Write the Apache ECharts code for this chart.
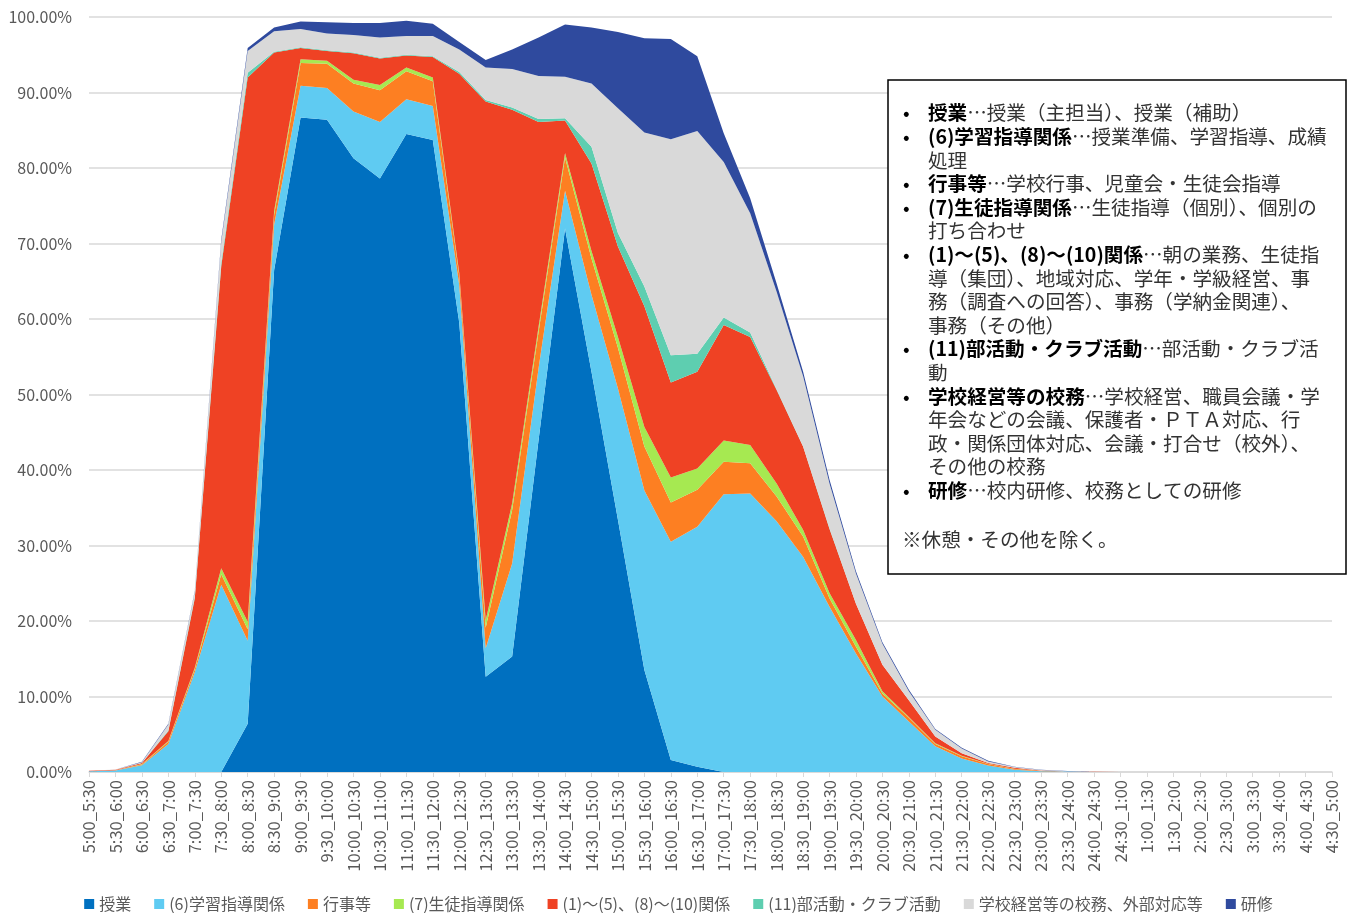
<!DOCTYPE html>
<html>
<head>
<meta charset="utf-8">
<title>時間帯別業務</title>
<script src="https://cdn.jsdelivr.net/npm/echarts@6/dist/echarts.min.js"></script>
<style>
    html, body { margin: 0; padding: 0; background: #fff; }
    #main { width: 1357px; height: 913px; }
</style>
</head>
<body>
<div id="main"></div>
<script>
// 時間帯
var categories = [
    '5:00_5:30', '5:30_6:00', '6:00_6:30', '6:30_7:00', '7:00_7:30', '7:30_8:00',
    '8:00_8:30', '8:30_9:00', '9:00_9:30', '9:30_10:00', '10:00_10:30', '10:30_11:00',
    '11:00_11:30', '11:30_12:00', '12:00_12:30', '12:30_13:00', '13:00_13:30', '13:30_14:00',
    '14:00_14:30', '14:30_15:00', '15:00_15:30', '15:30_16:00', '16:00_16:30', '16:30_17:00',
    '17:00_17:30', '17:30_18:00', '18:00_18:30', '18:30_19:00', '19:00_19:30', '19:30_20:00',
    '20:00_20:30', '20:30_21:00', '21:00_21:30', '21:30_22:00', '22:00_22:30', '22:30_23:00',
    '23:00_23:30', '23:30_24:00', '24:00_24:30', '24:30_1:00', '1:00_1:30', '1:30_2:00',
    '2:00_2:30', '2:30_3:00', '3:00_3:30', '3:30_4:00', '4:00_4:30', '4:30_5:00'
];

// 各業務の割合（%）
var jugyo = [0, 0, 0, 0, 0, 0, 6.4, 66.5, 86.7, 86.4, 81.3, 78.6, 84.5, 83.7, 59.5, 12.6, 15.3, 44.0, 72.0, 53.0,
    33.4, 13.5, 1.6, 0.7, 0, 0, 0, 0, 0, 0, 0, 0, 0, 0, 0, 0, 0, 0, 0, 0, 0, 0, 0, 0, 0, 0, 0, 0];
var gakushu = [0.1, 0.2, 0.9, 3.7, 13.2, 24.8, 11.0, 6.0, 4.2, 4.2, 6.2, 7.5, 4.6, 4.5, 5.0, 3.8, 12.3, 9.5, 5.0, 10.2,
    17.4, 23.8, 28.9, 31.8, 36.8, 36.9, 33.2, 28.5, 21.9, 15.7, 10.0, 6.7, 3.4, 1.8, 0.85, 0.3, 0.1, 0.05, 0.01, 0,
    0, 0, 0, 0, 0, 0, 0, 0];
var gyoji = [0, 0.02, 0.1, 0.3, 0.4, 1.4, 1.5, 1.3, 3.0, 3.2, 3.7, 4.2, 3.7, 3.3, 1.3, 2.7, 7.1, 4.8, 4.4, 4.8,
    5.4, 5.8, 5.2, 4.9, 4.3, 4.0, 3.3, 2.7, 1.1, 0.9, 0.4, 0.5, 0.3, 0.3, 0.2, 0.1, 0.05, 0.01, 0, 0,
    0, 0, 0, 0, 0, 0, 0, 0];
var seito = [0, 0.01, 0.05, 0.1, 0.2, 0.8, 1.0, 0.5, 0.5, 0.4, 0.5, 0.7, 0.5, 0.5, 0.3, 1.0, 0.9, 0.7, 0.6, 1.0,
    1.4, 2.6, 3.3, 2.8, 2.8, 2.4, 1.7, 0.9, 0.7, 0.9, 0.3, 0.1, 0.1, 0.05, 0.05, 0.02, 0, 0, 0, 0,
    0, 0, 0, 0, 0, 0, 0, 0];
var kankei = [0.05, 0.07, 0.15, 1.3, 9.2, 40.0, 72.1, 21.0, 1.5, 1.3, 3.5, 3.5, 1.6, 2.7, 26.4, 68.7, 52.1, 27.1, 4.3, 11.6,
    12.0, 16.0, 12.6, 12.8, 15.3, 14.3, 12.4, 11.0, 8.5, 4.8, 3.5, 2.2, 0.9, 0.35, 0.1, 0.13, 0.05, 0.02, 0.01, 0,
    0, 0, 0, 0, 0, 0, 0, 0];
var bukatsu = [0, 0, 0, 0.1, 0.2, 0.5, 0.6, 0.1, 0.1, 0.1, 0.1, 0.1, 0.1, 0.1, 0.2, 0.2, 0.3, 0.4, 0.3, 2.2,
    1.8, 2.6, 3.6, 2.4, 1.0, 0.6, 0.1, 0.05, 0.1, 0, 0, 0, 0, 0, 0, 0, 0, 0, 0, 0,
    0, 0, 0, 0, 0, 0, 0, 0];
var komu = [0, 0.02, 0.1, 0.8, 0.7, 2.7, 2.9, 2.7, 2.4, 2.2, 2.3, 2.7, 2.5, 2.7, 3.0, 4.3, 5.1, 5.7, 5.5, 8.4,
    16.5, 20.4, 28.6, 29.5, 20.6, 15.8, 12.9, 9.3, 5.9, 4.0, 2.8, 1.2, 0.9, 0.6, 0.2, 0.1, 0.05, 0.02, 0.01, 0,
    0, 0, 0, 0, 0, 0, 0, 0];
var kenshu = [0, 0.01, 0.05, 0.1, 0.1, 0.3, 0.4, 0.5, 1.0, 1.5, 1.6, 1.9, 2.0, 1.6, 1.0, 1.0, 2.6, 5.1, 6.9, 7.4,
    10.1, 12.5, 13.3, 9.9, 3.8, 2.0, 1.1, 0.6, 0.5, 0.3, 0.2, 0.2, 0.1, 0.1, 0.1, 0.05, 0.05, 0.02, 0, 0,
    0, 0, 0, 0, 0, 0, 0, 0];

var seriesNames = ['授業', '(6)学習指導関係', '行事等', '(7)生徒指導関係', '(1)〜(5)、(8)〜(10)関係',
    '(11)部活動・クラブ活動', '学校経営等の校務、外部対応等', '研修'];
var seriesData = [jugyo, gakushu, gyoji, seito, kankei, bukatsu, komu, kenshu];
var colors = ['#0070C0', '#5FCBF2', '#FD7F22', '#A6E951', '#EF4224', '#5ECEB0', '#D9D9D9', '#2F4A9E'];

// 説明ボックスの行
var noteLines = [
    { bullet: true, text: '{b|授業}…授業（主担当）、授業（補助）' },
    { bullet: true, text: '{b|(6)学習指導関係}…授業準備、学習指導、成績' },
    { bullet: false, text: '処理' },
    { bullet: true, text: '{b|行事等}…学校行事、児童会・生徒会指導' },
    { bullet: true, text: '{b|(7)生徒指導関係}…生徒指導（個別）、個別の' },
    { bullet: false, text: '打ち合わせ' },
    { bullet: true, text: '{b|(1)～(5)、(8)～(10)関係}…朝の業務、生徒指' },
    { bullet: false, text: '導（集団）、地域対応、学年・学級経営、事' },
    { bullet: false, text: '務（調査への回答）、事務（学納金関連）、' },
    { bullet: false, text: '事務（その他）' },
    { bullet: true, text: '{b|(11)部活動・クラブ活動}…部活動・クラブ活' },
    { bullet: false, text: '動' },
    { bullet: true, text: '{b|学校経営等の校務}…学校経営、職員会議・学' },
    { bullet: false, text: '年会などの会議、保護者・ＰＴＡ対応、行' },
    { bullet: false, text: '政・関係団体対応、会議・打合せ（校外）、' },
    { bullet: false, text: 'その他の校務' },
    { bullet: true, text: '{b|研修}…校内研修、校務としての研修' }
];

var FONT = '"Noto Sans CJK JP", "Noto Sans", sans-serif';
var NOTE_SIZE = 19.6;

var series = [];
for (var i = 0; i < seriesNames.length; i++) {
    series.push({
        name: seriesNames[i],
        type: 'line',
        stack: 'total',
        data: seriesData[i],
        symbol: 'none',
        silent: true,
        lineStyle: { width: 0 },
        areaStyle: { color: colors[i], opacity: 1 },
        itemStyle: { color: colors[i] }
    });
}

var graphic = [{
    type: 'rect',
    z: 100,
    shape: { x: 888, y: 80, width: 458, height: 494 },
    style: { fill: '#fff', stroke: '#000', lineWidth: 1.5 }
}];
var lineY = 113;
for (var j = 0; j < noteLines.length; j++) {
    if (noteLines[j].bullet) {
        graphic.push({
            type: 'text', z: 101, x: 903, y: lineY,
            style: { text: '•', fontSize: NOTE_SIZE, fontFamily: FONT, fill: '#000', verticalAlign: 'middle' }
        });
    }
    graphic.push({
        type: 'text', z: 101, x: 928, y: lineY,
        style: {
            text: noteLines[j].text,
            fontSize: NOTE_SIZE, fontFamily: FONT, fill: '#333', verticalAlign: 'middle',
            rich: { b: { fontSize: NOTE_SIZE, fontFamily: FONT, fontWeight: 'bold', fill: '#000' } }
        }
    });
    lineY += 23.6;
}
graphic.push({
    type: 'text', z: 101, x: 902, y: 540,
    style: { text: '※休憩・その他を除く。', fontSize: NOTE_SIZE, fontFamily: FONT, fill: '#333', verticalAlign: 'middle' }
});

var option = {
    animation: false,
    color: colors,
    textStyle: { fontFamily: FONT },
    grid: { left: 89, right: 25, top: 17, bottom: 141, containLabel: false },
    legend: {
        left: 'center',
        top: 891,
        icon: 'rect',
        itemWidth: 10,
        itemHeight: 10,
        itemGap: 23,
        selectedMode: false,
        textStyle: { color: '#595959', fontSize: 16, fontFamily: FONT },
        data: seriesNames
    },
    xAxis: {
        type: 'category',
        boundaryGap: false,
        data: categories,
        axisLine: { lineStyle: { color: '#D9D9D9', width: 1.5 } },
        axisTick: { show: true, length: 5, lineStyle: { color: '#D9D9D9' } },
        axisLabel: { interval: 0, rotate: 90, color: '#595959', fontSize: 16.5, margin: 8, fontFamily: FONT }
    },
    yAxis: {
        type: 'value',
        min: 0,
        max: 100,
        interval: 10,
        axisLine: { show: false },
        axisTick: { show: false },
        splitLine: { lineStyle: { color: '#D9D9D9', width: 1.5 } },
        axisLabel: {
            color: '#595959', fontSize: 16, margin: 17, fontFamily: FONT,
            formatter: function (v) { return v.toFixed(2) + '%'; }
        }
    },
    series: series,
    graphic: graphic
};

var myChart = echarts.init(document.getElementById('main'));
myChart.setOption(option);
</script>
</body>
</html>
